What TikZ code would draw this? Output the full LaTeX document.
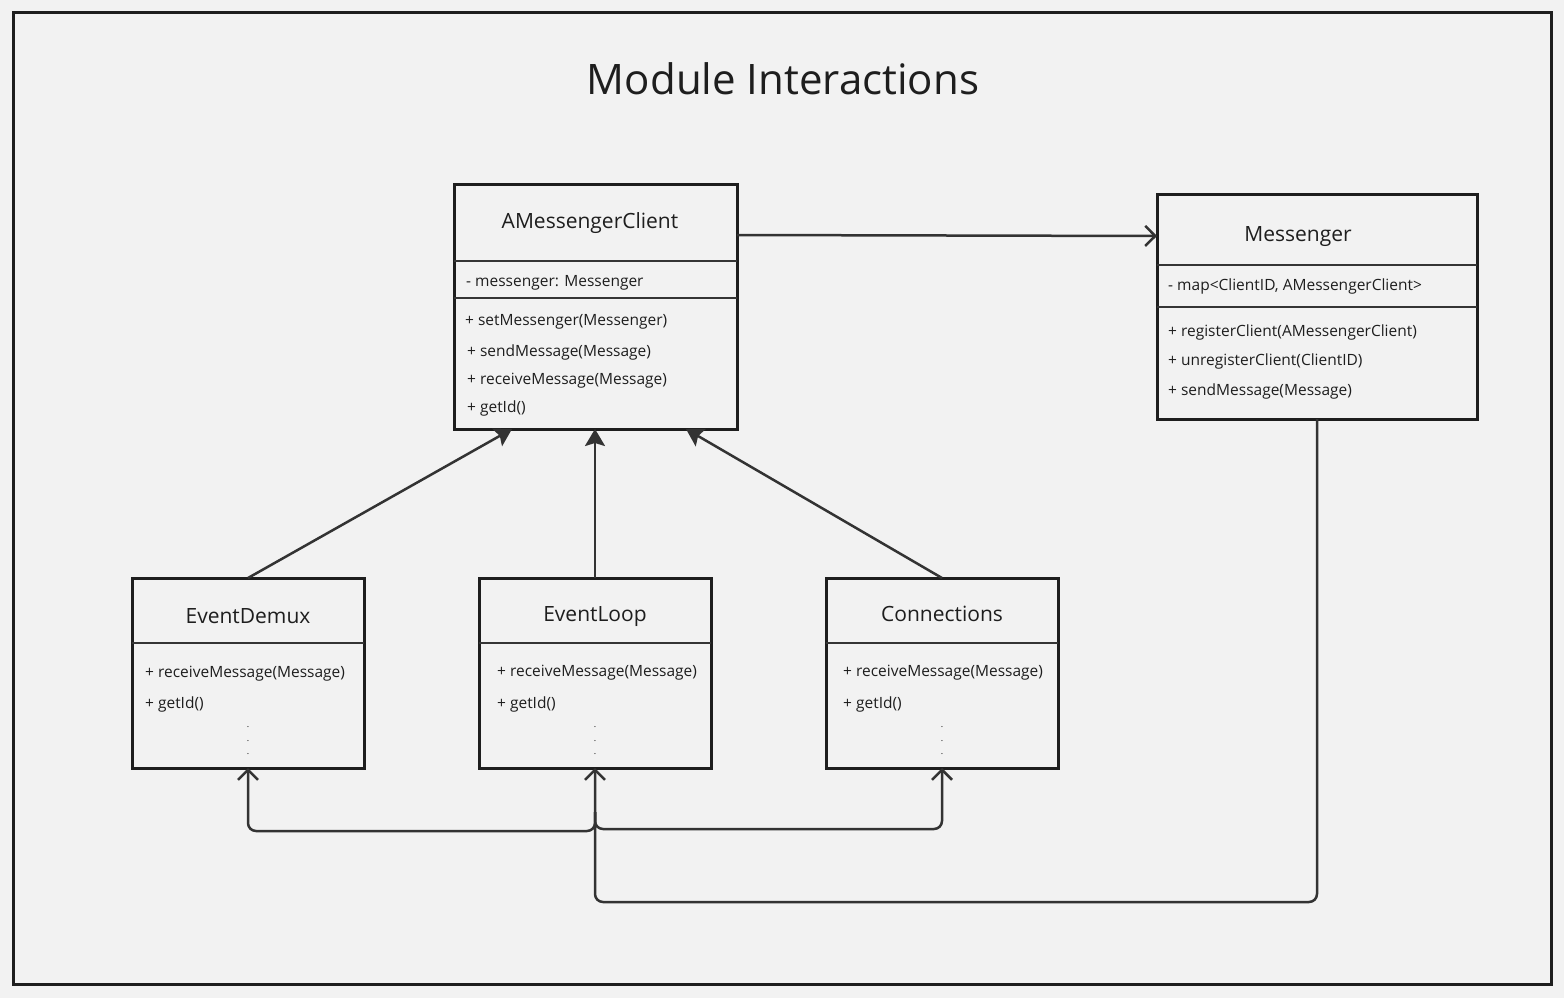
\documentclass[tikz,border=0pt]{standalone}
\usepackage{fontspec}
\setmainfont{Open Sans}
\usetikzlibrary{arrows.meta}
\definecolor{bg}{HTML}{F2F2F2}
\definecolor{ink}{HTML}{1E1E1E}
\definecolor{wire}{HTML}{333333}
\tikzset{
  boxs/.style={draw=ink, line width=3pt, fill=bg, anchor=north west, inner sep=0pt, outer sep=0pt},
  divs/.style={draw=ink!90, line width=2.5pt},
  ttl/.style={font=\fontsize{21}{25}\selectfont, text=ink, anchor=center, inner sep=0pt},
  mem/.style={font=\fontsize{15.5}{18}\selectfont, text=ink, anchor=west, inner sep=0pt},
  dts/.style={font=\fontsize{9}{13.5}\selectfont, text=ink, align=center, inner sep=0pt, anchor=center},
  wires/.style={draw=wire, line width=2.5pt},
  openarr/.style={wires, -{Straight Barb[length=10pt,width=20pt,line width=2.5pt]}},
  fillarr/.style={wires, -{Stealth[length=17pt,width=20pt,inset=3pt]}},
}
\begin{document}
\begin{tikzpicture}[x=1pt,y=-1pt]
\fill[bg] (0,0) rectangle (1564,998);
\useasboundingbox (0,0) rectangle (1564,998);
\draw[ink, line width=3pt] (13.5,12.5) rectangle (1551.5,984.5);
\node[font=\fontsize{42}{50}\selectfont, text=ink, inner sep=0pt] (title) at (783,79) {Module Interactions};

% AMessengerClient
\node[boxs, minimum width=283pt, minimum height=245pt] (amc) at (454,184) {};
\draw[divs] (454,261) -- (737,261);
\draw[divs] (454,298) -- (737,298);
\node[ttl] (amct) at (590,223) {AMessengerClient};
\node[mem] (amca) at (466,283) {- messenger: Messenger};
\node[mem] (amcm1) at (465,322) {+ setMessenger(Messenger)};
\node[mem] (amcm2) at (467,352) {+ sendMessage(Message)};
\node[mem] (amcm3) at (467,381) {+ receiveMessage(Message)};
\node[mem] (amcm4) at (467,408) {+ getId()};

% Messenger
\node[boxs, minimum width=320pt, minimum height=225pt] (msg) at (1157,194) {};
\draw[divs] (1157,265) -- (1477,265);
\draw[divs] (1157,307) -- (1477,307);
\node[ttl] (msgt) at (1298,237) {Messenger};
\node[mem] (msga) at (1168,286) {- map<ClientID, AMessengerClient>};
\node[mem] (msgm1) at (1168,332) {+ registerClient(AMessengerClient)};
\node[mem] (msgm2) at (1168,361) {+ unregisterClient(ClientID)};
\node[mem] (msgm3) at (1168,391) {+ sendMessage(Message)};

% EventDemux
\node[boxs, minimum width=232pt, minimum height=190pt] (edm) at (132,578) {};
\draw[divs] (132,643) -- (364,643);
\node[ttl] (edmt) at (248,616) {EventDemux};
\node[mem] (edm1) at (145,674) {+ receiveMessage(Message)};
\node[mem] (edm2) at (145,704) {+ getId()};
\node[dts] (edmd) at (248,741) {.\\.\\.};

% EventLoop
\node[boxs, minimum width=232pt, minimum height=190pt] (elp) at (479,578) {};
\draw[divs] (479,643) -- (711,643);
\node[ttl] (elpt) at (595,617) {EventLoop};
\node[mem] (elp1) at (497,673) {+ receiveMessage(Message)};
\node[mem] (elp2) at (497,704) {+ getId()};
\node[dts] (elpd) at (595,741) {.\\.\\.};

% Connections
\node[boxs, minimum width=232pt, minimum height=190pt] (con) at (826,578) {};
\draw[divs] (826,643) -- (1058,643);
\node[ttl] (cont) at (942,614) {Connections};
\node[mem] (con1) at (843,673) {+ receiveMessage(Message)};
\node[mem] (con2) at (843,704) {+ getId()};
\node[dts] (cond) at (942,741) {.\\.\\.};

% connectors
\draw[openarr] (amc.east |- 0,235) -- (msg.west |- 0,236);
\draw[fillarr] (edm.north) -- (amc.south west -| 512,0);
\draw[fillarr] (elp.north) -- (amc.south west -| 595,0);
\draw[fillarr] (con.north) -- (amc.south west -| 686,0);

\coordinate (bus) at (595,902);
\coordinate (jn) at (595,812);
\draw[openarr, rounded corners=8pt] (msg.south -| 1317,0) |- (bus) -- (elp.south);
\draw[openarr, rounded corners=8pt] (jn) |- (248,831) -- (edm.south);
\draw[openarr, rounded corners=8pt] (jn) |- (942,829) -- (con.south);
\end{tikzpicture}
\end{document}
